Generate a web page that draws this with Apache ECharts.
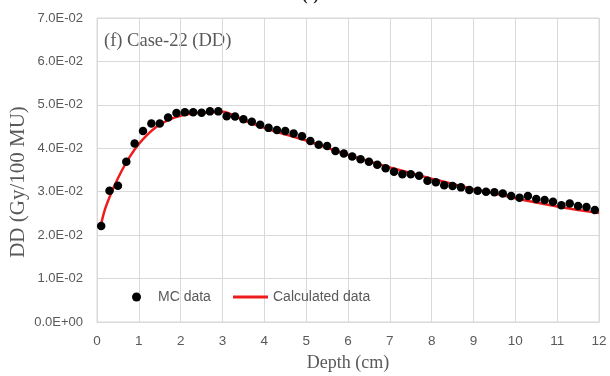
<!DOCTYPE html>
<html>
<head>
<meta charset="utf-8">
<script src="https://cdn.jsdelivr.net/npm/echarts@6/dist/echarts.min.js"></script>
<style>
  html, body { margin: 0; padding: 0; background: #fff; }
  #main { width: 610px; height: 376px; }
</style>
</head>
<body>
<div id="main"></div>
<script>
// MC data, depth every 0.2 cm from 0.1
const mcDepth = [0.1, 0.3, 0.5, 0.7, 0.9, 1.1, 1.3, 1.5, 1.7, 1.9,
  2.1, 2.3, 2.5, 2.7, 2.9, 3.1, 3.3, 3.5, 3.7, 3.9,
  4.1, 4.3, 4.5, 4.7, 4.9, 5.1, 5.3, 5.5, 5.7, 5.9,
  6.1, 6.3, 6.5, 6.7, 6.9, 7.1, 7.3, 7.5, 7.7, 7.9,
  8.1, 8.3, 8.5, 8.7, 8.9, 9.1, 9.3, 9.5, 9.7, 9.9,
  10.1, 10.3, 10.5, 10.7, 10.9, 11.1, 11.3, 11.5, 11.7, 11.9]
const mcDose = [0.0221, 0.0302, 0.0314, 0.0369, 0.0411, 0.0440, 0.0457, 0.0457, 0.0471, 0.0481,
  0.0483, 0.0483, 0.0482, 0.0485, 0.0485, 0.0474, 0.0473, 0.0467, 0.0461, 0.0454,
  0.0447, 0.0442, 0.0440, 0.0434, 0.0428, 0.0417, 0.0408, 0.0405, 0.0394, 0.0388,
  0.0381, 0.0375, 0.0369, 0.0362, 0.0354, 0.0346, 0.0340, 0.0340, 0.0337, 0.0325,
  0.0322, 0.0315, 0.0313, 0.0310, 0.0304, 0.0302, 0.0300, 0.0299, 0.0296, 0.0290,
  0.0286, 0.0290, 0.0283, 0.0281, 0.0277, 0.0269, 0.0273, 0.0267, 0.0265, 0.0258]

// calculated curve
const calcDepth = [0.1, 0.2, 0.4, 0.6, 0.8, 1.0, 1.2, 1.4, 1.6, 1.8, 2.0, 2.2, 2.4, 2.6, 2.8, 3.0,
  3.5, 4.0, 4.5, 5.0, 5.5, 6.0, 6.5, 7.0, 7.5, 8.0, 8.5, 9.0, 9.5, 10.0, 10.5, 11.0, 11.5, 12.0]
const calcDose = [0.0226, 0.0262, 0.0310, 0.0350, 0.0383, 0.0410, 0.0431, 0.0448, 0.0460, 0.0469,
  0.0475, 0.0479, 0.0481, 0.0482, 0.0483, 0.0484,
  0.0465, 0.0447, 0.0432, 0.0418, 0.0401, 0.0385, 0.0370, 0.0356, 0.0343, 0.0330,
  0.0318, 0.0306, 0.0296, 0.0285, 0.0275, 0.0266, 0.0258, 0.0251]

const chart = echarts.init(document.getElementById('main'))

const sans = 'Liberation Sans'
const serif = 'Liberation Serif'
const grey = '#595959'

// 0.07 -> "7.0E-02"
const fmtE = v => {
  const s = Number(v).toExponential(1).toUpperCase()
  return s.replace(/E([+-])(\d)$/, 'E$10$2')
}

const option = {
  animation: false,
  backgroundColor: '#fff',
  grid: { left: 97, right: 11, top: 18, bottom: 54, outerBoundsMode: 'none',
    show: true, borderColor: '#d9d9d9', borderWidth: 1 },
  graphic: [
    { type: 'text', left: 104, top: 32, style: { text: '(f) Case-22 (DD)', font: '18.5px "Liberation Serif"', fill: grey } },
    { type: 'text', x: 18, y: 182, rotation: Math.PI / 2,
      style: { text: 'DD (Gy/100 MU)', font: '21px "Liberation Serif"', fill: grey, align: 'center', verticalAlign: 'middle' } },
    { type: 'text', left: 302, top: -13, style: { text: '(f)', font: 'bold 17px "Liberation Serif"', fill: '#222' } }
  ],
  legend: [
    { data: ['MC data'], left: 132, top: 290, padding: 0, itemWidth: 9, itemHeight: 9, icon: 'circle',
      textStyle: { fontFamily: sans, fontSize: 14, color: grey, padding: [0, 0, 0, 12] } },
    { data: ['Calculated data'], left: 233, top: 290, padding: 0, itemWidth: 35, itemHeight: 3, icon: 'rect',
      textStyle: { fontFamily: sans, fontSize: 14, color: grey } }
  ],
  xAxis: {
    type: 'value', min: 0, max: 12, interval: 1,
    name: 'Depth (cm)', nameLocation: 'middle', nameGap: 32,
    nameTextStyle: { fontFamily: serif, fontSize: 18, color: grey },
    axisLine: { lineStyle: { color: '#d9d9d9' } },
    axisTick: { show: false },
    axisLabel: { fontFamily: sans, fontSize: 13.5, color: grey, margin: 12 },
    splitLine: { lineStyle: { color: '#d9d9d9' } }
  },
  yAxis: {
    type: 'value', min: 0, max: 0.07, interval: 0.01,
    axisLine: { show: false },
    axisTick: { show: false },
    axisLabel: { fontFamily: sans, fontSize: 13, color: grey, margin: 14, formatter: fmtE },
    splitLine: { lineStyle: { color: '#d9d9d9' } }
  },
  series: [
    {
      name: 'Calculated data', type: 'line', smooth: 0.3, showSymbol: false,
      data: calcDepth.map((d, i) => [d, calcDose[i]]),
      lineStyle: { color: '#ee1c1c', width: 2.5 }, itemStyle: { color: '#ee1c1c' }, z: 2
    },
    {
      name: 'MC data', type: 'scatter', symbolSize: 8.5,
      data: mcDepth.map((d, i) => [d, mcDose[i]]),
      itemStyle: { color: '#000', opacity: 1 }, z: 3
    }
  ]
}

option && chart.setOption(option)
</script>
</body>
</html>
